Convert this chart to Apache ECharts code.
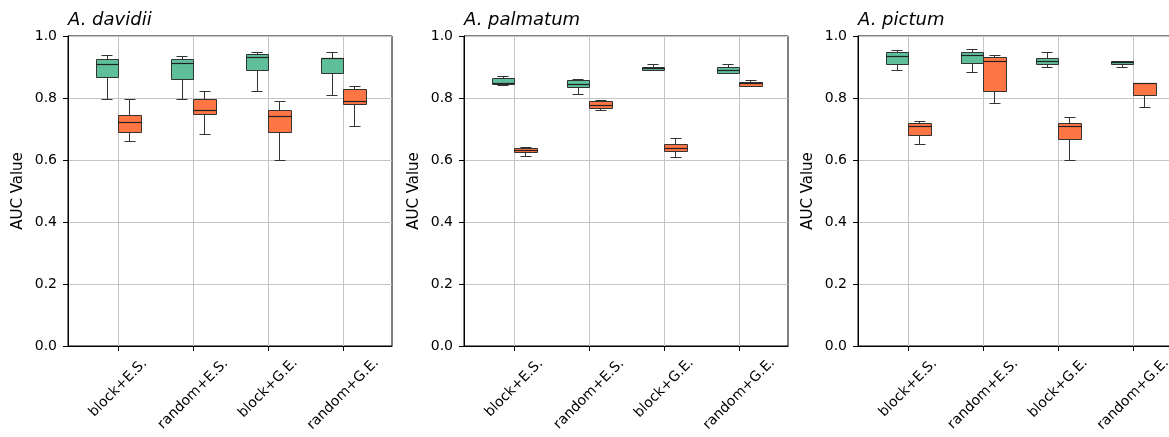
<!DOCTYPE html>
<html>
<head>
<meta charset="utf-8">
<script src="https://cdn.jsdelivr.net/npm/echarts@6/dist/echarts.min.js"></script>
<style>
  html, body { margin: 0; padding: 0; background: #fff; }
  #chart { width: 1169px; height: 437px; }
</style>
</head>
<body>
<div id="chart"></div>
<script>
// ---- data ----
const categories = ['block+E.S.', 'random+E.S.', 'block+G.E.', 'random+G.E.'];
const species = ['A. davidii', 'A. palmatum', 'A. pictum'];
const yTicks = [0, 0.2, 0.4, 0.6, 0.8, 1.0];
// each row: [min, Q1, median, Q3, max]
const davidiiGreen = [
  [0.796, 0.867, 0.910, 0.926, 0.939],
  [0.796, 0.861, 0.913, 0.925, 0.934],
  [0.822, 0.889, 0.931, 0.941, 0.949],
  [0.810, 0.881, 0.928, 0.929, 0.949]
];
const davidiiOrange = [
  [0.660, 0.691, 0.722, 0.744, 0.798],
  [0.683, 0.747, 0.761, 0.796, 0.822],
  [0.600, 0.690, 0.741, 0.760, 0.790],
  [0.710, 0.780, 0.791, 0.829, 0.840]
];
const palmatumGreen = [
  [0.842, 0.845, 0.848, 0.866, 0.870],
  [0.812, 0.834, 0.844, 0.858, 0.860],
  [0.889, 0.889, 0.897, 0.900, 0.910],
  [0.880, 0.880, 0.889, 0.901, 0.910]
];
const palmatumOrange = [
  [0.612, 0.625, 0.631, 0.638, 0.642],
  [0.760, 0.769, 0.778, 0.789, 0.793],
  [0.611, 0.630, 0.640, 0.651, 0.670],
  [0.840, 0.840, 0.847, 0.851, 0.859]
];
const pictumGreen = [
  [0.889, 0.911, 0.935, 0.947, 0.954],
  [0.885, 0.913, 0.939, 0.949, 0.957],
  [0.900, 0.910, 0.919, 0.930, 0.949],
  [0.900, 0.909, 0.915, 0.919, 0.919]
];
const pictumOrange = [
  [0.652, 0.681, 0.710, 0.719, 0.727],
  [0.785, 0.823, 0.919, 0.931, 0.939],
  [0.600, 0.669, 0.710, 0.720, 0.740],
  [0.770, 0.810, 0.849, 0.849, 0.849]
];

const panels = [
  { green: davidiiGreen, orange: davidiiOrange },
  { green: palmatumGreen, orange: palmatumOrange },
  { green: pictumGreen, orange: pictumOrange }
];

// ---- styling ----
const GREEN = '#5fbf9b';
const ORANGE = '#ff7645';
const EDGE = '#333333';
const BOX_W = 0.3;
const OFFSET = 0.15;
const FONT = 'DejaVu Sans';
const gridLefts = [68, 464, 858];
const GRID_TOP = 36, GRID_W = 324, GRID_H = 310;

function renderBox(offset, color) {
  return function (params, api) {
    const x = api.value(0) + offset;
    const lo = api.coord([x, api.value(1)]);
    const q1 = api.coord([x, api.value(2)]);
    const md = api.coord([x, api.value(3)]);
    const q3 = api.coord([x, api.value(4)]);
    const hi = api.coord([x, api.value(5)]);
    const bw = api.size([BOX_W, 0])[0];
    const r = v => Math.round(v) + 0.5;
    const cx = r(lo[0]);
    const left = r(lo[0] - bw / 2);
    const right = r(lo[0] + bw / 2);
    const capL = r(lo[0] - bw / 4);
    const capR = r(lo[0] + bw / 4);
    const ls = { stroke: EDGE, lineWidth: 1 };
    return {
      type: 'group',
      children: [
        { type: 'line', shape: { x1: cx, y1: r(q1[1]), x2: cx, y2: r(lo[1]) }, style: ls },
        { type: 'line', shape: { x1: cx, y1: r(q3[1]), x2: cx, y2: r(hi[1]) }, style: ls },
        { type: 'line', shape: { x1: capL, y1: r(lo[1]), x2: capR, y2: r(lo[1]) }, style: ls },
        { type: 'line', shape: { x1: capL, y1: r(hi[1]), x2: capR, y2: r(hi[1]) }, style: ls },
        { type: 'rect', shape: { x: left, y: r(q3[1]), width: right - left, height: r(q1[1]) - r(q3[1]) },
          style: { fill: color, stroke: EDGE, lineWidth: 1 } },
        { type: 'line', shape: { x1: left, y1: r(md[1]), x2: right, y2: r(md[1]) },
          style: { stroke: '#222222', lineWidth: 1.2 } }
      ]
    };
  };
}

const grids = [], xAxes = [], yAxes = [], series = [], titles = [];
gridLefts.forEach((left, i) => {
  grids.push({ left: left, top: GRID_TOP, width: GRID_W, height: GRID_H,
    show: true, borderColor: '#000', borderWidth: 1, backgroundColor: 'transparent',
    containLabel: false, outerBoundsMode: 'none' });
  titles.push({ text: species[i], left: left, top: 11, padding: 0,
    textStyle: { fontFamily: FONT, fontSize: 18, fontStyle: 'italic', fontWeight: 'normal', color: '#000' } });
  xAxes.push({
    type: 'value', gridIndex: i, min: -0.667, max: 3.653,
    axisLine: { show: true, onZero: false, lineStyle: { color: '#000', width: 1 } },
    axisTick: { show: true, inside: false, length: 5, lineStyle: { color: '#000' }, customValues: [0, 1, 2, 3] },
    splitLine: { show: true, lineStyle: { color: '#c4c4c4', width: 1 } },
    axisLabel: {
      customValues: [0, 1, 2, 3],
      rotate: 45, align: 'center', verticalAlign: 'middle', margin: 42,
      fontFamily: FONT, fontSize: 14, color: '#000',
      formatter: v => {
        const t = categories[Math.round(v)];
        return t.length > 10 ? '{l|' + t + '}' : '{s|' + t + '}';
      },
      rich: {
        s: { fontFamily: FONT, fontSize: 14, color: '#000' },
        l: { fontFamily: FONT, fontSize: 14, color: '#000', padding: [8.6, 8.6, 0, 0] }
      }
    }
  });
  yAxes.push({
    type: 'value', gridIndex: i, min: 0, max: 1, interval: 0.2,
    name: 'AUC Value', nameLocation: 'middle', nameGap: 42, nameRotate: 90,
    nameTextStyle: { fontFamily: FONT, fontSize: 15, color: '#000' },
    axisLine: { show: true, onZero: false, lineStyle: { color: '#000', width: 1 } },
    axisTick: { show: true, inside: false, length: 5, lineStyle: { color: '#000' } },
    splitLine: { show: true, lineStyle: { color: '#c4c4c4', width: 1 } },
    axisLabel: { fontFamily: FONT, fontSize: 14, color: '#000', margin: 11,
      formatter: v => v.toFixed(1) }
  });
  const p = panels[i];
  [[p.green, -OFFSET, GREEN], [p.orange, OFFSET, ORANGE]].forEach(([vals, off, col]) => {
    series.push({
      type: 'custom', xAxisIndex: i, yAxisIndex: i,
      data: vals.map((v, k) => [k].concat(v)),
      encode: { x: 0, y: [1, 2, 3, 4, 5] },
      renderItem: renderBox(off, col),
      clip: false, silent: true
    });
  });
});

const chart = echarts.init(document.getElementById('chart'), null, { renderer: 'canvas' });
chart.setOption({
  animation: false,
  backgroundColor: '#fff',
  title: titles,
  grid: grids,
  xAxis: xAxes,
  yAxis: yAxes,
  series: series
});
</script>
</body>
</html>
